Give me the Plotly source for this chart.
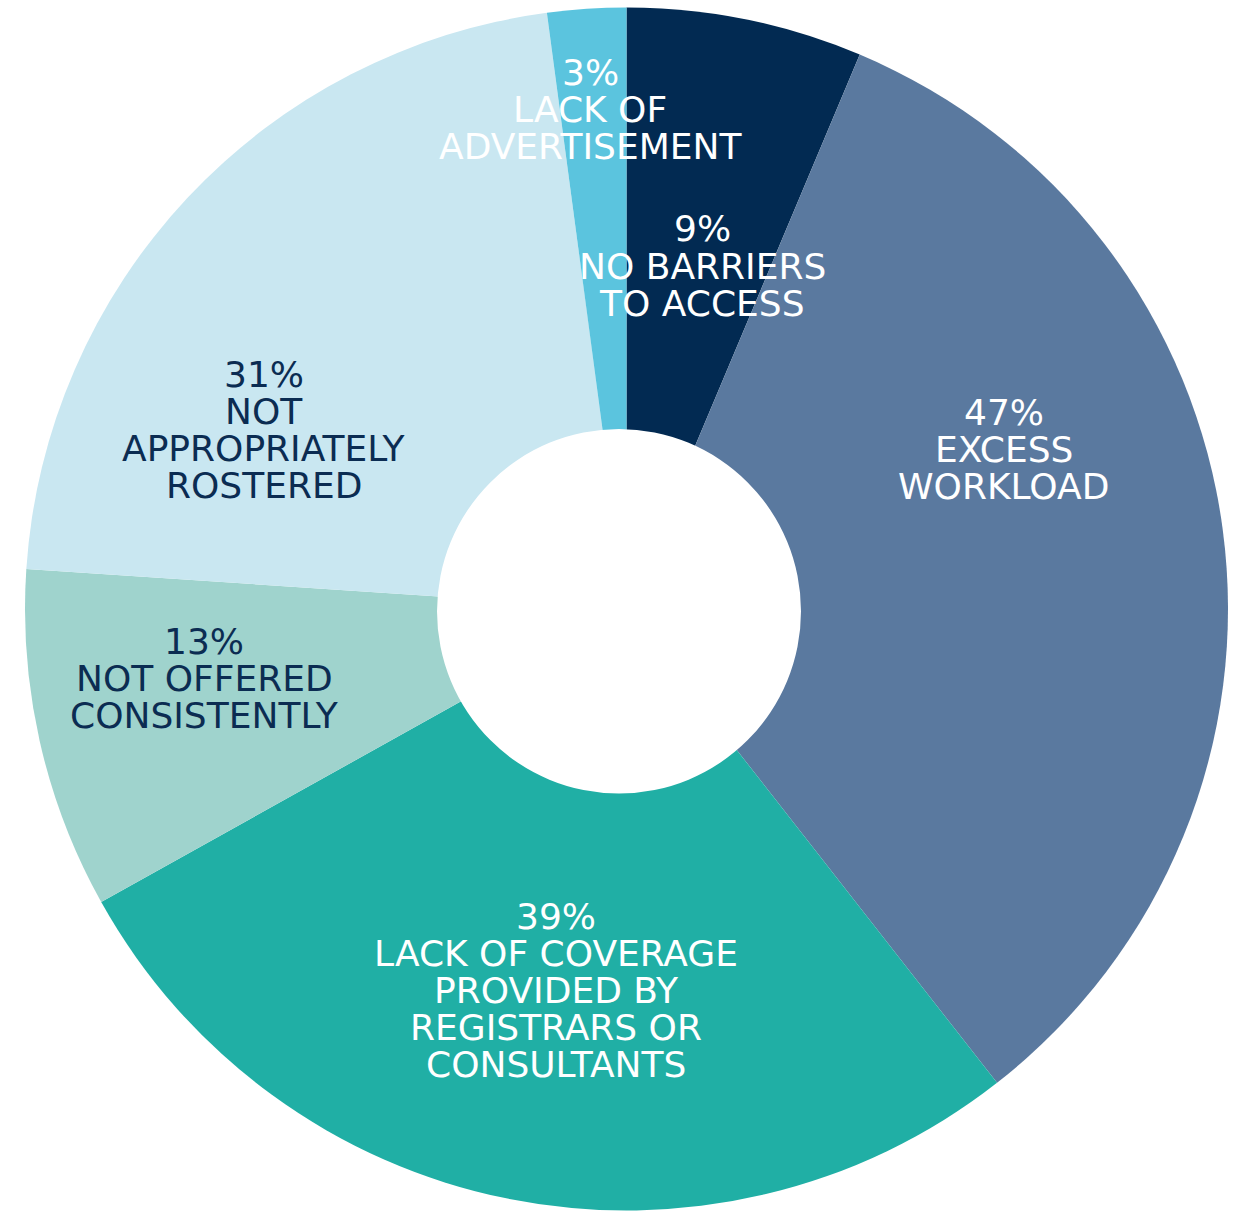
import plotly.graph_objects as go

# ---- data ----
categories = ["No barriers to access", "Excess workload",
              "Lack of coverage provided by registrars or consultants",
              "Not offered consistently", "Not appropriately rostered",
              "Lack of advertisement"]
values = [9, 47, 39, 13, 31, 3]
label_lines = [
    ["NO BARRIERS", "TO ACCESS"],
    ["EXCESS", "WORKLOAD"],
    ["LACK OF COVERAGE", "PROVIDED BY", "REGISTRARS OR", "CONSULTANTS"],
    ["NOT OFFERED", "CONSISTENTLY"],
    ["NOT", "APPROPRIATELY", "ROSTERED"],
    ["LACK OF", "ADVERTISEMENT"],
]

# ---- styles ----
colors = ["#022a52", "#5a799f", "#20afa5", "#9fd3cd", "#c9e7f1", "#5bc4de"]
text_colors = ["#ffffff", "#ffffff", "#ffffff", "#0b2c52", "#0b2c52", "#ffffff"]
# label block positions (pixel x of centre, pixel y of first line)
label_pos = [(702, 229), (1004, 412), (556, 916), (204, 641), (264, 374), (590, 72)]
line_gap = 37.2

W, H = 1245, 1212

fig = go.Figure(go.Pie(
    labels=categories,
    values=values,
    sort=False,
    direction="clockwise",
    rotation=0,
    hole=0,
    marker=dict(colors=colors, line=dict(width=0)),
    textinfo="none",
    hoverinfo="label+value",
    showlegend=False,
    domain=dict(x=[25 / W, 1228 / W], y=[1 - 1210.5 / H, 1 - 7.5 / H]),
))

annotations = []
for v, lines, (px, py), tc in zip(values, label_lines, label_pos, text_colors):
    all_lines = [f"{v}%"] + lines
    for i, t in enumerate(all_lines):
        annotations.append(dict(
            x=px / W, y=1 - (py + i * line_gap) / H,
            xref="paper", yref="paper",
            xanchor="center", yanchor="middle",
            text=t, showarrow=False,
            font=dict(family="DejaVu Sans", size=36, color=tc),
        ))

# white centre of the donut (slightly off-centre in the original design)
fig.add_shape(type="circle", xref="paper", yref="paper",
              x0=437 / W, x1=801 / W, y0=1 - 793.5 / H, y1=1 - 429 / H,
              fillcolor="white", line=dict(width=0), layer="above")

fig.update_layout(
    width=W, height=H,
    margin=dict(l=0, r=0, t=0, b=0),
    paper_bgcolor="white", plot_bgcolor="white",
    annotations=annotations,
)

fig.write_html("out.html")
